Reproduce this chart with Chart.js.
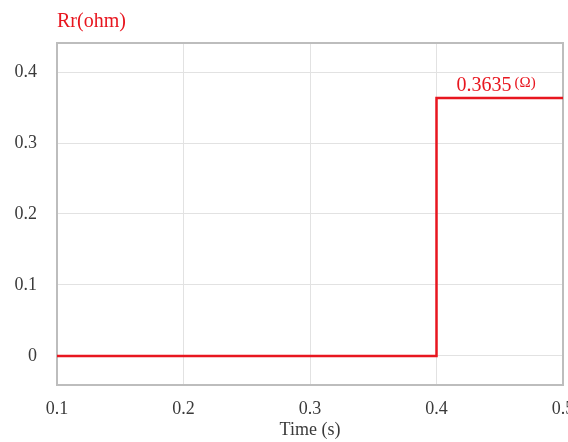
<!DOCTYPE html>
<html>
<head>
<meta charset="utf-8">
<script src="https://cdn.jsdelivr.net/npm/chart.js@4/dist/chart.umd.min.js"></script>
<style>
  html, body { margin: 0; padding: 0; background: #fff; }
  #wrap { width: 568px; height: 442px; }
</style>
</head>
<body>
<div id="wrap"><canvas id="myChart" width="568" height="442"></canvas></div>
<script>
// datos de la curva Rr (escalon a t = 0.4 s)
const tiempos = [0.1, 0.4, 0.4, 0.5];
const valoresRr = [0, 0, 0.3635, 0.3635];
const ticksX = [0.1, 0.2, 0.3, 0.4, 0.5];
const ticksY = [0, 0.1, 0.2, 0.3, 0.4];
const etiquetaValor = '0.3635';
const tituloY = 'Rr(ohm)';
const tituloX = 'Time (s)';

const rojo = '#e8161f';
const fuente = "'Liberation Serif', 'Times New Roman', serif";

const puntos = tiempos.map((t, i) => ({ x: t, y: valoresRr[i] }));

// marco del area, titulo arriba y etiqueta del valor final
const textosExtra = {
  id: 'textosExtra',
  beforeDatasetsDraw(chart) {
    const ctx = chart.ctx;
    const a = chart.chartArea;
    ctx.save();
    ctx.strokeStyle = '#bdbdbd';
    ctx.lineWidth = 2;
    ctx.strokeRect(a.left, a.top, a.right - a.left, a.bottom - a.top);
    ctx.restore();
  },
  afterDatasetsDraw(chart) {
    const ctx = chart.ctx;
    const area = chart.chartArea;
    const sx = chart.scales.x, sy = chart.scales.y;
    ctx.save();
    ctx.fillStyle = rojo;
    ctx.font = '20px ' + fuente;
    ctx.textBaseline = 'alphabetic';
    ctx.textAlign = 'left';
    ctx.fillText(tituloY, area.left, 27);

    const px = sx.getPixelForValue(0.4);
    const py = sy.getPixelForValue(valoresRr[3]);
    ctx.font = '20px ' + fuente;
    ctx.fillText(etiquetaValor, px + 20, py - 7);
    const w = ctx.measureText(etiquetaValor).width;
    ctx.font = '15px ' + fuente;
    ctx.fillText('(\u03A9)', px + 23 + w, py - 11);
    ctx.restore();
  }
};

new Chart(document.getElementById('myChart'), {
  type: 'line',
  data: {
    datasets: [{
      data: puntos,
      borderColor: rojo,
      borderWidth: 2.5,
      pointRadius: 0,
      fill: false,
      tension: 0
    }]
  },
  options: {
    responsive: false,
    animation: false,
    layout: { padding: { left: 13, right: 5, top: 43, bottom: 1 } },
    plugins: { legend: { display: false }, tooltip: { enabled: false } },
    scales: {
      x: {
        type: 'linear',
        min: 0.1,
        max: 0.5,
        afterBuildTicks: (s) => { s.ticks = ticksX.map(v => ({ value: v })); },
        afterFit: (s) => { s.paddingRight = 0; s.paddingLeft = 0; s.height = 56; },
        ticks: {
          color: '#3a3a3a',
          font: { family: fuente, size: 18 },
          padding: 13,
          maxRotation: 0,
          callback: (v) => String(Math.round(v * 10) / 10)
        },
        grid: { color: '#e2e2e2', lineWidth: 1, drawTicks: false },
        border: { color: '#bdbdbd', width: 2 },
        title: {
          display: true,
          text: tituloX,
          color: '#3a3a3a',
          font: { family: fuente, size: 18 },
          padding: { top: 0, bottom: 0 }
        }
      },
      y: {
        type: 'linear',
        min: -0.041,
        max: 0.441,
        afterBuildTicks: (s) => { s.ticks = ticksY.map(v => ({ value: v })); },
        afterFit: (s) => { s.width = 44; s.paddingTop = 0; s.paddingBottom = 0; },
        ticks: {
          color: '#3a3a3a',
          font: { family: fuente, size: 18 },
          padding: 20,
          callback: (v) => String(Math.round(v * 10) / 10)
        },
        grid: { color: '#e2e2e2', lineWidth: 1, drawTicks: false },
        border: { color: '#bdbdbd', width: 2 }
      }
    }
  },
  plugins: [textosExtra]
});
</script>
</body>
</html>
